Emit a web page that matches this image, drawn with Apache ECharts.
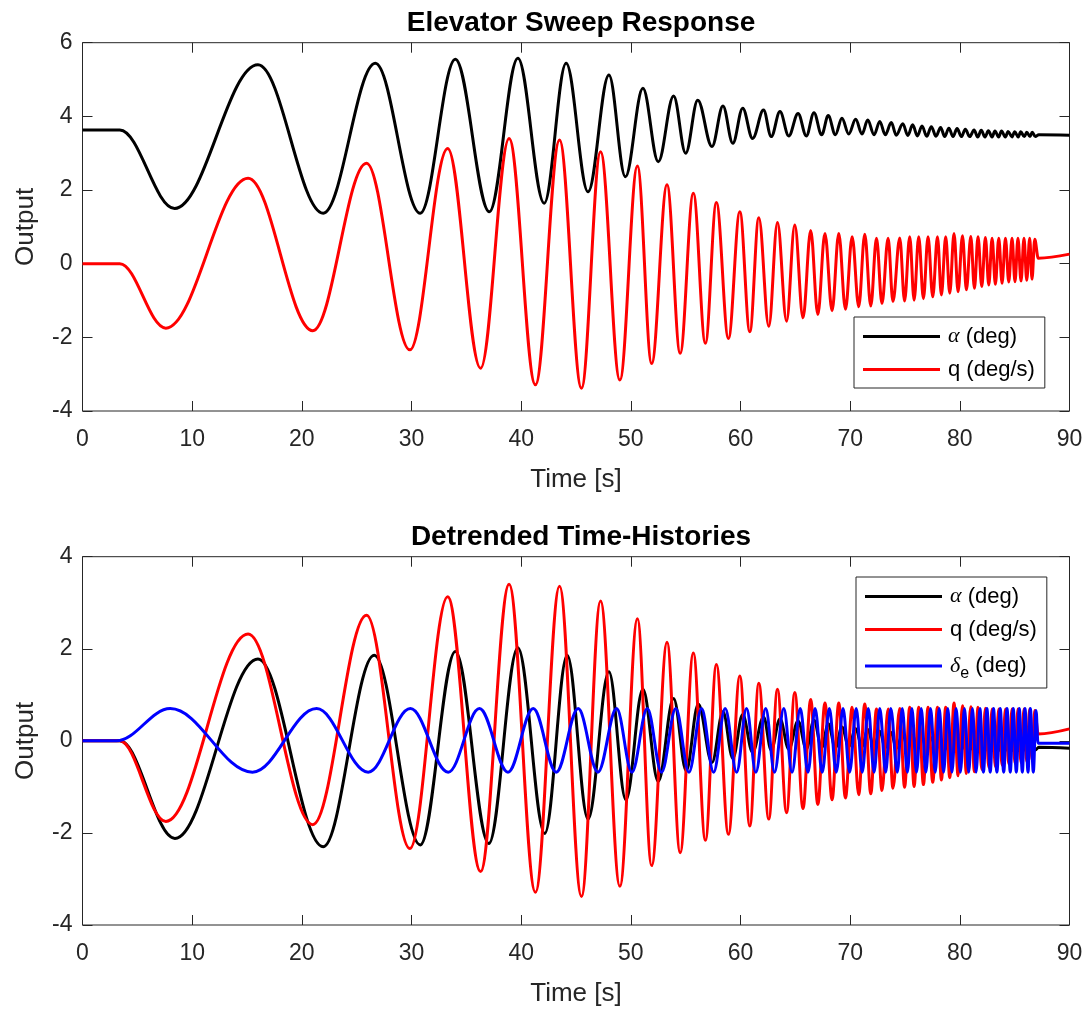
<!DOCTYPE html>
<html>
<head>
<meta charset="utf-8">
<script src="https://cdn.jsdelivr.net/npm/echarts@6/dist/echarts.min.js"></script>
<style>
html,body{margin:0;padding:0;background:#fff;}
#chart{width:1090px;height:1009px;}
</style>
</head>
<body>
<div id="chart"></div>
<script>
// ---- data: [time (s), value] at extrema / breakpoints ----
const xTicks = [0, 10, 20, 30, 40, 50, 60, 70, 80, 90];
const yTicksTop = [-4, -2, 0, 2, 4, 6];
const yTicksBottom = [-4, -2, 0, 2, 4];

const alphaTop = [[0,3.63],[3.4,3.63],[8.4,1.50],[16.0,5.40],[21.95,1.37],[26.7,5.44],[30.8,1.37],[34.0,5.55],[37.1,1.41],[39.7,5.58],[42.1,1.64],[44.1,5.44],[46.1,1.95],[48.0,5.12],[49.5,2.36],[51.1,4.76],[52.5,2.77],[53.9,4.55],[55.0,3.0],[56.1,4.44],[57.4,3.18],[58.4,4.28],[59.3,3.27],[60.2,4.22],[61.1,3.40],[62.1,4.17],[62.8,3.45],[63.6,4.13],[64.4,3.47],[65.25,4.08],[66.0,3.47],[66.7,4.10],[67.4,3.50],[68.0,4.02],[68.65,3.50],[69.25,3.95],[69.87,3.52],[70.5,3.92],[71.08,3.52],[71.6,3.90],[72.18,3.50],[72.7,3.86],[73.2,3.50],[73.75,3.83],[74.2,3.49],[74.8,3.80],[75.26,3.48],[75.7,3.77],[76.13,3.47],[76.55,3.74],[76.98,3.46],[77.4,3.72],[77.83,3.46],[78.25,3.70],[78.62,3.45],[79.0,3.68],[79.38,3.45],[79.75,3.67],[80.14,3.45],[80.5,3.65],[80.9,3.45],[81.3,3.63],[81.63,3.44],[81.95,3.62],[82.3,3.44],[82.6,3.61],[82.94,3.44],[83.2,3.60],[83.54,3.44],[83.8,3.60],[84.15,3.44],[84.4,3.59],[84.76,3.44],[85.0,3.58],[85.33,3.44],[85.55,3.58],[85.88,3.45],[86.1,3.57],[86.4,3.45],[86.6,3.57],[86.88,3.45],[87.2,3.50],[90,3.49]];

const qRate = [[0,0.0],[3.4,0.0],[7.6,-1.75],[15.1,2.32],[21.0,-1.82],[25.9,2.73],[29.85,-2.34],[33.3,3.13],[36.3,-2.84],[38.9,3.40],[41.3,-3.29],[43.5,3.36],[45.5,-3.38],[47.24,3.04],[49.0,-3.16],[50.6,2.65],[51.9,-2.71],[53.3,2.14],[54.5,-2.43],[55.7,1.91],[56.8,-2.16],[57.8,1.66],[58.9,-2.03],[59.94,1.41],[60.85,-1.85],[61.67,1.25],[62.58,-1.70],[63.37,1.12],[64.2,-1.56],[64.95,1.05],[65.7,-1.47],[66.4,0.90],[67.05,-1.38],[67.7,0.82],[68.35,-1.28],[68.96,0.82],[69.57,-1.24],[70.18,0.73],[70.78,-1.17],[71.33,0.80],[71.88,-1.15],[72.4,0.69],[72.9,-1.08],[73.46,0.69],[73.9,-1.03],[74.52,0.70],[74.96,-1.01],[75.43,0.73],[75.83,-0.99],[76.25,0.73],[76.68,-0.95],[77.1,0.73],[77.53,-0.90],[77.96,0.73],[78.32,-0.85],[78.71,0.73],[79.08,-0.80],[79.47,0.82],[79.84,-0.76],[80.24,0.76],[80.6,-0.71],[81.0,0.74],[81.33,-0.67],[81.66,0.73],[82.0,-0.62],[82.33,0.71],[82.64,-0.58],[82.94,0.69],[83.24,-0.56],[83.55,0.69],[83.85,-0.53],[84.16,0.69],[84.46,-0.50],[84.76,0.69],[85.03,-0.49],[85.3,0.69],[85.58,-0.47],[85.85,0.69],[86.1,-0.45],[86.37,0.69],[86.58,-0.42],[86.83,0.66],[87.15,0.15],[90,0.26]];

const alphaDetrended = [[0,0.0],[3.4,0.0],[8.43,-2.12],[16.0,1.78],[21.95,-2.30],[26.6,1.86],[30.8,-2.26],[34.0,1.94],[37.05,-2.23],[39.7,2.02],[42.15,-2.01],[44.2,1.86],[46.1,-1.70],[48.0,1.50],[49.55,-1.28],[51.1,1.12],[52.5,-0.88],[53.9,0.92],[55.05,-0.65],[56.15,0.80],[57.4,-0.47],[58.4,0.63],[59.3,-0.38],[60.2,0.57],[61.1,-0.25],[62.1,0.52],[62.8,-0.20],[63.6,0.48],[64.4,-0.18],[65.25,0.43],[66.0,-0.18],[66.7,0.45],[67.4,-0.15],[68.0,0.37],[68.65,-0.15],[69.25,0.30],[69.87,-0.13],[70.5,0.27],[71.08,-0.13],[71.6,0.25],[72.18,-0.15],[72.7,0.21],[73.2,-0.15],[73.75,0.18],[74.2,-0.16],[74.8,0.15],[75.26,-0.17],[75.7,0.12],[76.13,-0.18],[76.55,0.09],[76.98,-0.19],[77.4,0.07],[77.83,-0.19],[78.25,0.05],[78.62,-0.20],[79.0,0.03],[79.38,-0.20],[79.75,0.02],[80.14,-0.20],[80.5,0.0],[80.9,-0.20],[81.3,-0.02],[81.63,-0.21],[81.95,-0.03],[82.3,-0.21],[82.6,-0.04],[82.94,-0.21],[83.2,-0.05],[83.54,-0.21],[83.8,-0.05],[84.15,-0.21],[84.4,-0.06],[84.76,-0.21],[85.0,-0.07],[85.33,-0.21],[85.55,-0.07],[85.88,-0.20],[86.1,-0.08],[86.4,-0.20],[86.6,-0.08],[86.88,-0.20],[87.2,-0.14],[90,-0.16]];

const deltaE = [[0,0],[3.1,0],[8.0,0.70],[15.5,-0.68],[21.35,0.70],[26.05,-0.68],[29.9,0.70],[33.35,-0.68],[36.2,0.70],[38.8,-0.68],[41.1,0.70],[43.2,-0.68],[45.2,0.70],[47.0,-0.68],[48.7,0.70],[50.1,-0.68],[51.5,0.70],[52.8,-0.68],[54.1,0.70],[55.3,-0.68],[56.45,0.70],[57.55,-0.68],[58.6,0.70],[59.65,-0.68],[60.55,0.70],[61.4,-0.68],[62.3,0.70],[63.1,-0.68],[63.95,0.70],[64.7,-0.68],[65.45,0.70],[66.15,-0.68],[66.8,0.70],[67.45,-0.68],[68.1,0.70],[68.73,-0.68],[69.35,0.70],[69.95,-0.68],[70.55,0.70],[71.1,-0.68],[71.65,0.70],[72.18,-0.68],[72.7,0.70],[73.24,-0.68],[73.7,0.70],[74.3,-0.68],[74.75,0.70],[75.22,-0.68],[75.63,0.70],[76.05,-0.68],[76.48,0.70],[76.9,-0.68],[77.33,0.70],[77.76,-0.68],[78.12,0.70],[78.52,-0.68],[78.9,0.70],[79.28,-0.68],[79.66,0.70],[80.05,-0.68],[80.42,0.70],[80.81,-0.68],[81.15,0.70],[81.48,-0.68],[81.83,0.70],[82.15,-0.68],[82.47,0.70],[82.77,-0.68],[83.07,0.70],[83.38,-0.68],[83.68,0.70],[84.0,-0.68],[84.3,0.70],[84.6,-0.68],[84.87,0.70],[85.15,-0.68],[85.42,0.70],[85.7,-0.68],[85.94,0.70],[86.22,-0.68],[86.43,0.70],[86.7,-0.68],[86.95,0.66],[87.13,-0.05],[90,-0.05]];

// ---- styling ----
const FONT = 'Liberation Sans, Arial, Helvetica, sans-serif';
const AX = '#262626';
const TICK_FS = 23;
const LABEL_FS = 26;

const grids = [
  {left: 82.5, top: 42.7, width: 987, height: 368.3},
  {left: 82.5, top: 556.7, width: 987, height: 368.3}
];

const tickStyle = {show: true, inside: true, length: 10, lineStyle: {color: AX, width: 1}};

function xAxes(gi) {
  return [
    {gridIndex: gi, type: 'value', min: xTicks[0], max: xTicks[xTicks.length-1], interval: 10,
     axisLine: {show: false, onZero: false}, splitLine: {show: false},
     axisTick: tickStyle,
     axisLabel: {show: true, margin: 17, color: AX, fontSize: TICK_FS, fontFamily: FONT},
     name: 'Time [s]', nameLocation: 'middle', nameGap: 56,
     nameTextStyle: {color: AX, fontSize: LABEL_FS, fontFamily: FONT}},
    {gridIndex: gi, type: 'value', position: 'top', min: xTicks[0], max: xTicks[xTicks.length-1], interval: 10,
     axisLine: {show: false, onZero: false}, splitLine: {show: false},
     axisTick: tickStyle,
     axisLabel: {show: false}}
  ];
}
function yAxes(gi, ticks) {
  const mn = ticks[0], mx = ticks[ticks.length-1];
  return [
    {gridIndex: gi, type: 'value', min: mn, max: mx, interval: 2,
     axisLine: {show: false, onZero: false}, splitLine: {show: false},
     axisTick: tickStyle,
     axisLabel: {show: true, margin: 10, color: AX, fontSize: TICK_FS, fontFamily: FONT},
     name: 'Output', nameLocation: 'middle', nameGap: 44,
     nameTextStyle: {color: AX, fontSize: LABEL_FS, fontFamily: FONT}},
    {gridIndex: gi, type: 'value', position: 'right', min: mn, max: mx, interval: 2,
     axisLine: {show: false, onZero: false}, splitLine: {show: false},
     axisTick: tickStyle,
     axisLabel: {show: false}}
  ];
}

function lineSeries(name, data, xi, yi, color, width) {
  return {
    name: name, type: 'line', data: data, xAxisIndex: xi, yAxisIndex: yi,
    showSymbol: false, symbol: 'none', smooth: 0.36, smoothMonotone: 'x',
    lineStyle: {color: color, width: width}, itemStyle: {color: color},
    emphasis: {disabled: true}, silent: true, clip: true
  };
}

const legendText = {
  alpha: '{g|α} (deg)',
  q: 'q (deg/s)',
  delta: '{d|δ}{s|e} (deg)'
};
const legendRich = {
  g: {fontFamily: 'Liberation Serif, DejaVu Serif, serif', fontStyle: 'italic', fontSize: 22, color: '#000', lineHeight: 25},
  d: {fontFamily: 'Liberation Serif, DejaVu Serif, serif', fontStyle: 'italic', fontSize: 22, color: '#000', lineHeight: 25},
  s: {fontFamily: FONT, fontSize: 16, color: '#000', padding: [16, 0, 0, 0], lineHeight: 25}
};
function legend(top, left, names, colors) {
  return {
    show: true, orient: 'vertical', left: left, top: top,
    data: names.map((n, i) => ({name: n, icon: 'rect', itemStyle: {color: colors[i]}})),
    itemWidth: 77, itemHeight: 3, itemGap: 8,
    padding: [7, 10, 6, 9],
    backgroundColor: '#fff', borderColor: AX, borderWidth: 1,
    selectedMode: false,
    formatter: n => legendText[n],
    textStyle: {fontFamily: FONT, fontSize: 22, color: '#000', lineHeight: 25, padding: [0, 0, 0, 3], rich: legendRich}
  };
}

const option = {
  animation: false,
  backgroundColor: '#fff',
  title: [
    {text: 'Elevator Sweep Response', left: 576, top: 4, textAlign: 'center',
     textStyle: {fontFamily: FONT, fontSize: 28, fontWeight: 'bold', color: '#000'}},
    {text: 'Detrended Time-Histories', left: 576, top: 518, textAlign: 'center',
     textStyle: {fontFamily: FONT, fontSize: 28, fontWeight: 'bold', color: '#000'}}
  ],
  grid: grids.map(g => Object.assign({show: true, borderColor: AX, borderWidth: 1, backgroundColor: 'transparent'}, g)),
  xAxis: [].concat(xAxes(0), xAxes(1)),
  yAxis: [].concat(yAxes(0, yTicksTop), yAxes(1, yTicksBottom)),
  legend: [
    legend(317, 854, ['alpha', 'q'], ['#000000', '#ff0000']),
    legend(577, 856, ['alpha', 'q', 'delta'], ['#000000', '#ff0000', '#0000ff'])
  ],
  series: [
    lineSeries('alpha', alphaTop, 0, 0, '#000000', 3),
    lineSeries('q', qRate, 0, 0, '#ff0000', 3),
    lineSeries('alpha', alphaDetrended, 2, 2, '#000000', 3),
    lineSeries('q', qRate, 2, 2, '#ff0000', 3),
    lineSeries('delta', deltaE, 2, 2, '#0000ff', 3)
  ]
};

const chart = echarts.init(document.getElementById('chart'), null, {renderer: 'canvas'});
chart.setOption(option);
</script>
</body>
</html>
